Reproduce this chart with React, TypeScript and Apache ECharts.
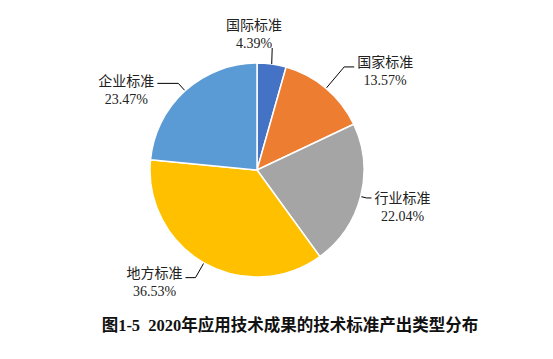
import React, { useEffect, useRef } from "react";
import * as echarts from "echarts";

const categories = ["国际标准", "国家标准", "行业标准", "地方标准", "企业标准"];
const values = [4.39, 13.57, 22.04, 36.53, 23.47];
const colors = ["#4472C4", "#ED7D31", "#A5A5A5", "#FFC000", "#5B9BD5"];
const lineLen = [18, 28, 6, 17, 10];
const lineLen2 = [2, 10, 5, 10, 21];
const padTop = [0, 10, 20, 10, 14];
const titleText = "图1-5  2020年应用技术成果的技术标准产出类型分布";

const FONT = "'Liberation Serif', 'Noto Sans CJK SC', serif";
const CX = 257;
const CY = 170;
const R = 107;
const TOP_LABEL_Y = 34;
const TOP_LINE_END = 48;

export default function App() {
  const ref = useRef<HTMLDivElement>(null);
  useEffect(() => {
    document.body.style.margin = "0";
    const chart = echarts.init(ref.current!, null, { renderer: "svg" });
    const total = values.reduce((s, v) => s + v, 0);
    // anchor of the first slice's leader line, on the pie's edge
    const midAngle = (values[0] / 2 / total) * Math.PI * 2;
    const ax = CX + R * Math.sin(midAngle);
    const ay = CY - R * Math.cos(midAngle);
    chart.setOption({
      animation: false,
      backgroundColor: "#fff",
      title: {
        text: titleText,
        left: 285,
        textAlign: "center",
        top: 312,
        textStyle: { fontFamily: FONT, fontWeight: "bold", fontSize: 16.5, color: "#111" },
      },
      graphic: [
        {
          type: "line",
          z: 10,
          shape: { x1: ax, y1: ay, x2: ax + 0.5, y2: TOP_LINE_END },
          style: { stroke: "#000", lineWidth: 1 },
        },
      ],
      series: [
        {
          type: "pie",
          center: [CX, CY],
          radius: R,
          startAngle: 90,
          clockwise: true,
          avoidLabelOverlap: false,
          itemStyle: { borderColor: "#fff", borderWidth: 1.5 },
          label: {
            show: true,
            position: "outside",
            distanceToLabelLine: 2,
            formatter: (p: any) => `{a|${p.name}}\n{a|${p.value.toFixed(2)}%}`,
            rich: {
              a: { width: 58, align: "center", fontFamily: FONT, fontSize: 14, color: "#222", lineHeight: 18 },
            },
          },
          labelLine: {
            show: true,
            lineStyle: { color: "#000", width: 1 },
          },
          labelLayout: (p: any) => {
            if (p.dataIndex !== 0) return {};
            return { x: 254, y: TOP_LABEL_Y, align: "center", verticalAlign: "middle" };
          },
          data: categories.map((c, i) => ({
            name: c,
            value: values[i],
            itemStyle: { color: colors[i] },
            label: { padding: [padTop[i], 0, 0, 0] },
            labelLine: { show: i !== 0, length: lineLen[i], length2: lineLen2[i] },
          })),
        },
      ],
    });
    return () => chart.dispose();
  }, []);
  return <div ref={ref} style={{ width: 553, height: 359 }} />;
}
